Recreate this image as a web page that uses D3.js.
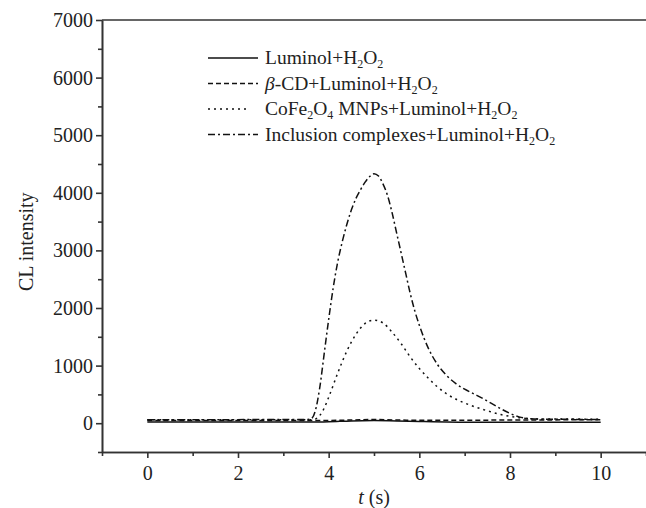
<!DOCTYPE html>
<html>
<head>
<meta charset="utf-8">
<script src="https://cdn.jsdelivr.net/npm/d3@7"></script>
<style>
  body { margin: 0; background: #fff; }
  text { font-family: "Liberation Serif", "Times New Roman", serif; fill: #222; }
</style>
</head>
<body>
<script>
// values
var tLum = [0, 3.6, 4.0, 4.5, 5.0, 5.5, 6.0, 7.2, 10];
var yLum = [20, 20, 25, 40, 45, 40, 30, 15, 15];

var tCD = [0, 3.6, 4.5, 5.0, 5.5, 6.5, 8.0, 10];
var yCD = [45, 45, 55, 65, 55, 50, 55, 60];

var tMNP = [0, 3.6, 3.7, 3.8, 3.9, 4.0, 4.2, 4.4, 4.6, 4.8, 5.0, 5.2, 5.4, 5.6, 5.8, 6.0, 6.2, 6.4, 6.6, 6.8, 7.0, 7.4, 7.8, 8.2, 8.6, 10];
var yMNP = [60, 60, 70, 130, 260, 450, 870, 1250, 1540, 1730, 1790, 1740, 1580, 1380, 1150, 950, 780, 630, 510, 420, 350, 240, 150, 95, 75, 70];

var tInc = [0, 3.5, 3.6, 3.7, 3.8, 3.9, 4.0, 4.1, 4.2, 4.3, 4.4, 4.5, 4.6, 4.7, 4.8, 4.9, 5.0, 5.1, 5.2, 5.3, 5.4, 5.5, 5.6, 5.7, 5.8, 5.9, 6.0, 6.2, 6.4, 6.6, 6.8, 7.0, 7.2, 7.4, 7.6, 7.8, 8.0, 8.2, 8.4, 8.7, 10];
var yInc = [60, 65, 70, 200, 600, 1200, 1800, 2350, 2800, 3150, 3450, 3700, 3900, 4050, 4180, 4280, 4330, 4290, 4150, 3950, 3650, 3300, 2950, 2600, 2250, 1950, 1700, 1300, 1020, 830, 690, 590, 510, 430, 340, 250, 170, 110, 80, 70, 65];

var xTicks = [0, 2, 4, 6, 8, 10];
var yTicks = [0, 1000, 2000, 3000, 4000, 5000, 6000, 7000];

var width = 646, height = 508;

var x = d3.scaleLinear().domain([-1, 11]).range([102, 646]);
var y = d3.scaleLinear().domain([-500, 7000]).range([452, 20]);

var svg = d3.select("body").append("svg")
    .attr("width", width)
    .attr("height", height);

// axes
var xAxis = d3.axisBottom(x).tickValues(xTicks).tickSize(6).tickPadding(8).tickFormat(d3.format("d")).tickSizeOuter(0);
var xMinor = d3.axisBottom(x).tickValues(d3.range(-1, 12, 2)).tickSize(4).tickFormat("").tickSizeOuter(0);
var yAxis = d3.axisLeft(y).tickValues(yTicks).tickSize(6).tickPadding(3).tickFormat(d3.format("d")).tickSizeOuter(0);
var yMinor = d3.axisLeft(y).tickValues(d3.range(-500, 7000, 1000)).tickSize(4).tickFormat("").tickSizeOuter(0);

function styleAxis(g) {
  g.selectAll("path, line").attr("stroke", "#333").attr("stroke-width", 1.6);
  g.selectAll("text").attr("font-size", 20).attr("font-family", "Liberation Serif").attr("fill", "#222");
}

svg.append("g").attr("transform", "translate(0," + y(-500) + ")").call(xMinor).call(styleAxis);
svg.append("g").attr("transform", "translate(0," + y(-500) + ")").call(xAxis).call(styleAxis);
svg.append("g").attr("transform", "translate(" + x(-1) + ",0)").call(yMinor).call(styleAxis);
svg.append("g").attr("transform", "translate(" + x(-1) + ",0)").call(yAxis).call(styleAxis);

// top frame line
svg.append("line")
    .attr("x1", x(-1)).attr("x2", width)
    .attr("y1", y(7000)).attr("y2", y(7000))
    .attr("stroke", "#333").attr("stroke-width", 1.6);

// curves
var line = d3.line()
    .x(function(d) { return x(d[0]); })
    .y(function(d) { return y(d[1]); })
    .curve(d3.curveMonotoneX);

var series = [
  {t: tLum, v: yLum, dash: null},
  {t: tCD, v: yCD, dash: "5,3"},
  {t: tMNP, v: yMNP, dash: "2,4"},
  {t: tInc, v: yInc, dash: "7,3,2,3"}
];

series.forEach(function(s) {
  svg.append("path")
      .datum(d3.zip(s.t, s.v))
      .attr("d", line)
      .attr("fill", "none")
      .attr("stroke", "#111")
      .attr("stroke-width", 1.5)
      .attr("stroke-dasharray", s.dash);
});

// legend
var legendRows = [
  {dash: null, x2: 258, parts: [["Luminol+H"], ["2", "sub"], ["O"], ["2", "sub"]]},
  {dash: "5,3", x2: 258, parts: [["β", "it"], ["-CD+Luminol+H"], ["2", "sub"], ["O"], ["2", "sub"]]},
  {dash: "2,4", x2: 250, parts: [["CoFe"], ["2", "sub"], ["O"], ["4", "sub"], [" MNPs+Luminol+H"], ["2", "sub"], ["O"], ["2", "sub"]]},
  {dash: "7,3,2,3", x2: 258, parts: [["Inclusion complexes+Luminol+H"], ["2", "sub"], ["O"], ["2", "sub"]]}
];

var legend = svg.append("g");
legendRows.forEach(function(r, i) {
  var yy = 58 + i * 25.5;
  legend.append("line")
      .attr("x1", 208).attr("x2", r.x2)
      .attr("y1", yy).attr("y2", yy)
      .attr("stroke", "#111").attr("stroke-width", 1.5)
      .attr("stroke-dasharray", r.dash);
  var txt = legend.append("text")
      .attr("x", 265).attr("y", yy + 6)
      .attr("font-size", 19.5);
  var prevSub = false;
  r.parts.forEach(function(p) {
    var ts = txt.append("tspan").text(p[0]);
    if (p[1] === "sub") {
      ts.attr("font-size", 12).attr("dy", 4);
    } else {
      if (prevSub) ts.attr("dy", -4);
      if (p[1] === "it") ts.attr("font-style", "italic");
    }
    prevSub = p[1] === "sub";
  });
});

// axis titles
svg.append("text")
    .attr("transform", "translate(33," + y(3150) + ") rotate(-90)")
    .attr("text-anchor", "middle")
    .attr("font-size", 20)
    .text("CL intensity");

var xt = svg.append("text")
    .attr("x", x(5)).attr("y", 504)
    .attr("text-anchor", "middle")
    .attr("font-size", 20);
xt.append("tspan").attr("font-style", "italic").text("t");
xt.append("tspan").text(" (s)");
</script>
</body>
</html>
